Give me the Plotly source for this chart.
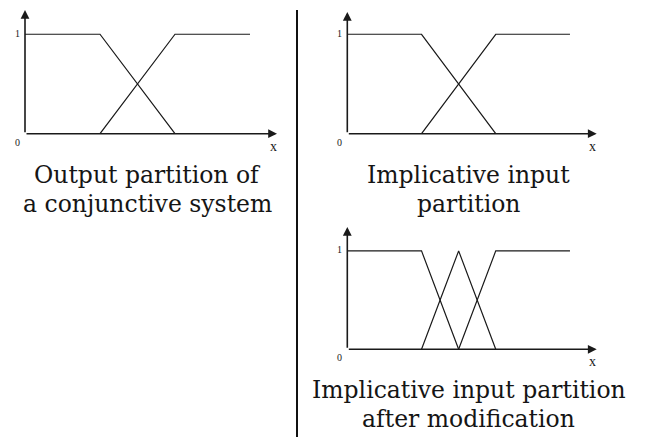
import plotly.graph_objects as go

# membership functions (x in partition units, y = membership degree)
dec_x = [0, 1, 2]
dec_y = [1, 1, 0]
inc_x = [1, 2, 3]
inc_y = [0, 1, 1]

mod_dec_x = [0, 1, 1.5]
mod_dec_y = [1, 1, 0]
mod_tri_x = [1, 1.5, 2]
mod_tri_y = [0, 1, 0]
mod_inc_x = [1.5, 2, 3]
mod_inc_y = [0, 1, 1]

tick_labels = ["0", "1"]
axis_label = "x"

captions = [
    ["Output partition of", "a conjunctive system"],
    ["Implicative input", "partition"],
    ["Implicative input partition", "after modification"],
]

W, H = 647, 441
LINE = dict(color="#1a1a1a", width=1.2)
SERIF = "DejaVu Serif"

fig = go.Figure()

panels = [
    ("x", "y", [(dec_x, dec_y), (inc_x, inc_y)]),
    ("x2", "y2", [(dec_x, dec_y), (inc_x, inc_y)]),
    ("x3", "y3", [(mod_dec_x, mod_dec_y), (mod_tri_x, mod_tri_y), (mod_inc_x, mod_inc_y)]),
]

for xr, yr, curves in panels:
    for cx, cy in curves:
        fig.add_trace(go.Scatter(x=cx, y=cy, xaxis=xr, yaxis=yr, mode="lines",
                                 line=LINE, showlegend=False, hoverinfo="skip"))

# pixel geometry -> paper domains
def px(v):
    return v / W

def py(v):
    return 1 - v / H

x_top = 3.36
axes_cfg = dict(visible=False, fixedrange=True)
fig.update_layout(
    xaxis=dict(domain=[px(25), px(277)], range=[0, x_top], anchor="y", **axes_cfg),
    yaxis=dict(domain=[py(133.7), py(10)], range=[0, 1.244], anchor="x", **axes_cfg),
    xaxis2=dict(domain=[px(347.3), px(596.7)], range=[0, x_top], anchor="y2", **axes_cfg),
    yaxis2=dict(domain=[py(133.7), py(12)], range=[0, 1.224], anchor="x2", **axes_cfg),
    xaxis3=dict(domain=[px(347.3), px(596.7)], range=[0, x_top], anchor="y3", **axes_cfg),
    yaxis3=dict(domain=[py(349.3), py(227)], range=[0, 1.243], anchor="x3", **axes_cfg),
)

annotations = []
y_tops = {"y": 1.244, "y2": 1.224, "y3": 1.243}
for xr, yr, _ in panels:
    # axis arrows
    annotations.append(dict(x=0, y=y_tops[yr], ax=0, ay=0, xref=xr, yref=yr, axref=xr, ayref=yr,
                            showarrow=True, arrowhead=2, arrowsize=1.1, arrowwidth=1.6,
                            arrowcolor="#1a1a1a", text=""))
    annotations.append(dict(x=x_top, y=0, ax=0, ay=0, xref=xr, yref=yr, axref=xr, ayref=yr,
                            showarrow=True, arrowhead=2, arrowsize=1.1, arrowwidth=1.6,
                            arrowcolor="#1a1a1a", text=""))
    # tick labels
    annotations.append(dict(x=0, y=1, xref=xr, yref=yr, text=tick_labels[1], showarrow=False,
                            xanchor="right", yanchor="middle", xshift=-3, yshift=1,
                            font=dict(family="Liberation Serif", size=10, color="#1a1a1a")))
    annotations.append(dict(x=0, y=0, xref=xr, yref=yr, text=tick_labels[0], showarrow=False,
                            xanchor="right", yanchor="top", xshift=-3, yshift=-1,
                            font=dict(family="Liberation Serif", size=10, color="#1a1a1a")))
    annotations.append(dict(x=x_top, y=0, xref=xr, yref=yr, text=axis_label, showarrow=False,
                            xanchor="center", yanchor="top", xshift=-4, yshift=-3,
                            font=dict(family="Liberation Serif", size=14, color="#1a1a1a")))

caption_pos = [(147, 175, 204), (469, 175, 204), (469, 390, 419)]
for lines, (cxp, y1, y2) in zip(captions, caption_pos):
    for txt, cy in zip(lines, (y1, y2)):
        annotations.append(dict(x=px(cxp), y=py(cy), xref="paper", yref="paper", text=txt,
                                showarrow=False, xanchor="center", yanchor="middle",
                                font=dict(family=SERIF, size=23.5, color="#151515")))

fig.update_layout(
    width=W, height=H,
    margin=dict(l=0, r=0, t=0, b=0),
    paper_bgcolor="white", plot_bgcolor="white",
    annotations=annotations,
    shapes=[dict(type="line", xref="paper", yref="paper", x0=px(297), x1=px(297),
                 y0=py(437), y1=py(10), line=dict(color="#111111", width=2))],
)

fig.write_html("out.html", config={"displayModeBar": False},
               post_script="document.body.style.margin='0';")
